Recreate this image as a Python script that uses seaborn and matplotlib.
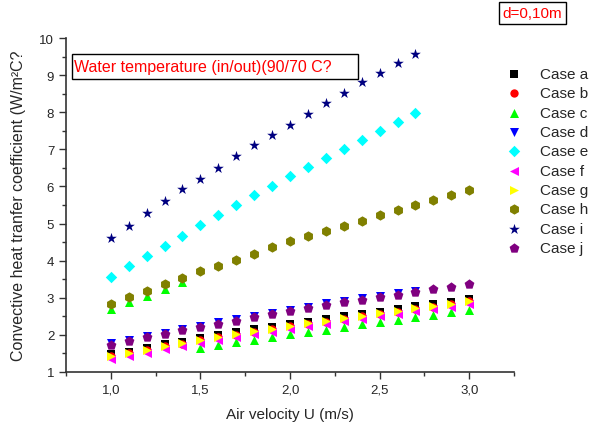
import matplotlib
matplotlib.use("Agg")
import matplotlib.pyplot as plt
import seaborn as sns
import pandas as pd
from matplotlib.ticker import MultipleLocator, FuncFormatter
from matplotlib.patches import Rectangle

# ---------------- data ----------------
velocity = [1.0, 1.1, 1.2, 1.3, 1.4, 1.5, 1.6, 1.7, 1.8, 1.9, 2.0,
            2.1, 2.2, 2.3, 2.4, 2.5, 2.6, 2.7, 2.8, 2.9, 3.0]

case_a = [1.49, 1.55, 1.65, 1.75, 1.82, 1.91, 1.99, 2.07, 2.15, 2.21, 2.30,
          2.36, 2.42, 2.50, 2.57, 2.63, 2.69, 2.78, 2.82, 2.88, 2.96]
case_b = [1.43, 1.50, 1.59, 1.69, 1.76, 1.85, 1.93, 2.01, 2.09, 2.15, 2.24,
          2.30, 2.36, 2.44, 2.51, 2.57, 2.63, 2.71, 2.76, 2.82, 2.90]
case_c = [2.70, 2.88, 3.06, 3.24, 3.42, 1.65, 1.74, 1.80, 1.87, 1.93, 2.02,
          2.09, 2.14, 2.21, 2.29, 2.36, 2.39, 2.48, 2.54, 2.61, 2.67]
case_d = [1.77, 1.87, 1.97, 2.06, 2.16, 2.25, 2.34, 2.42, 2.51, 2.60, 2.68,
          2.76, 2.85, 2.92, 2.99, 3.05, 3.12, 3.19]
case_e = [3.57, 3.85, 4.13, 4.40, 4.67, 4.95, 5.22, 5.49, 5.77, 6.02, 6.27,
          6.52, 6.77, 7.01, 7.25, 7.49, 7.73, 7.97]
case_f = [1.36, 1.42, 1.52, 1.62, 1.69, 1.78, 1.86, 1.94, 2.02, 2.08, 2.17,
          2.23, 2.29, 2.37, 2.44, 2.50, 2.56, 2.65, 2.69, 2.75, 2.83]
case_g = [1.44, 1.50, 1.60, 1.70, 1.77, 1.86, 1.94, 2.02, 2.10, 2.16, 2.25,
          2.31, 2.37, 2.45, 2.52, 2.58, 2.64, 2.73, 2.77, 2.83, 2.91]
case_h = [2.83, 3.01, 3.19, 3.37, 3.54, 3.71, 3.86, 4.02, 4.18, 4.36, 4.52,
          4.66, 4.80, 4.94, 5.08, 5.22, 5.36, 5.50, 5.63, 5.77, 5.90]
case_i = [4.61, 4.94, 5.28, 5.60, 5.93, 6.20, 6.50, 6.82, 7.12, 7.39, 7.66,
          7.95, 8.25, 8.52, 8.82, 9.06, 9.33, 9.57]
case_j = [1.73, 1.83, 1.93, 2.02, 2.12, 2.21, 2.30, 2.38, 2.47, 2.56, 2.64,
          2.72, 2.81, 2.88, 2.95, 3.01, 3.08, 3.15, 3.24, 3.30, 3.38]

case_labels = ["Case a", "Case b", "Case c", "Case d", "Case e",
               "Case f", "Case g", "Case h", "Case i", "Case j"]
x_ticks = [1.0, 1.5, 2.0, 2.5, 3.0]
y_ticks = [1, 2, 3, 4, 5, 6, 7, 8, 9, 10]

# ---------------- style ----------------
series = [case_a, case_b, case_c, case_d, case_e,
          case_f, case_g, case_h, case_i, case_j]
colors = ["#000000", "#FF0000", "#00FF00", "#0000FF", "#00FFFF",
          "#FF00FF", "#FFFF00", "#808000", "#000080", "#800080"]
markers = ["s", "o", "^", "v", "D", "<", ">", "h", "*", "p"]
sizes = [28, 36, 42, 42, 34, 42, 42, 55, 65, 55]

sns.set_style("ticks")
plt.rcParams['font.family'] = ['Liberation Sans', 'DejaVu Sans']

fig = plt.figure(figsize=(5.95, 4.27), dpi=100)
ax = fig.add_axes([66/595, 1-373/427, (514-66)/595, (373-39)/427])

for lab, vals, col, mk, sz in zip(case_labels, series, colors, markers, sizes):
    df = pd.DataFrame({"U": velocity[:len(vals)], "h": vals})
    sns.scatterplot(data=df, x="U", y="h", color=col, marker=mk, s=sz,
                    linewidth=0, ax=ax, label=lab, clip_on=False)

ax.set_xlim(0.75, 3.25)
ax.set_ylim(1, 10)
ax.xaxis.set_major_locator(MultipleLocator(0.5))
ax.xaxis.set_minor_locator(MultipleLocator(0.25))
ax.yaxis.set_major_locator(MultipleLocator(1))
ax.yaxis.set_minor_locator(MultipleLocator(0.5))
ax.set_xticks(x_ticks)
ax.set_yticks(y_ticks)
ax.xaxis.set_major_formatter(FuncFormatter(lambda v, p: f"{v:.1f}".replace(".", ",")))
ax.yaxis.set_major_formatter(FuncFormatter(lambda v, p: f"{int(round(v))}"))
ax.tick_params(which="major", direction="out", length=5, width=1, labelsize=9.5, color="#333333")
ax.tick_params(which="minor", direction="out", length=3, width=1, color="#333333")
for s in ["top", "right"]:
    ax.spines[s].set_visible(False)
for s in ["left", "bottom"]:
    ax.spines[s].set_color("#333333")
    ax.spines[s].set_linewidth(1.2)

ax.set_xlabel("Air velocity U (m/s)", fontsize=11)
ax.set_ylabel("Convective heat tranfer coefficient (W/m\u00b2C?", fontsize=11.5)
ax.xaxis.set_label_coords(0.5, -0.105)
ax.yaxis.set_label_coords(-0.09, 0.5)

handles, labels = ax.get_legend_handles_labels()
ax.get_legend().remove()
fig.legend(handles, labels, loc="upper left", bbox_to_anchor=(503/595, 1-68/427),
           frameon=False, fontsize=11, labelspacing=0.35, handletextpad=1.0,
           handlelength=1.4, borderpad=0, borderaxespad=0)

# annotation boxes
fig.patches.append(Rectangle((72/595, 1-79.5/427), (357.5-72)/595, (79.5-55)/427,
                             transform=fig.transFigure, fill=False,
                             edgecolor="black", linewidth=1))
fig.text(74/595, 1-67.5/427, "Water temperature (in/out)(90/70 C?", color="red",
         fontsize=11.5, va="center", ha="left")
fig.patches.append(Rectangle((499/595, 1-25/427), (566-499)/595, (25-3)/427,
                             transform=fig.transFigure, fill=False,
                             edgecolor="black", linewidth=1))
fig.text(532.5/595, 1-14.5/427, "d=0,10m", color="red", fontsize=11,
         va="center", ha="center")

fig.savefig("out.png", dpi=100)
